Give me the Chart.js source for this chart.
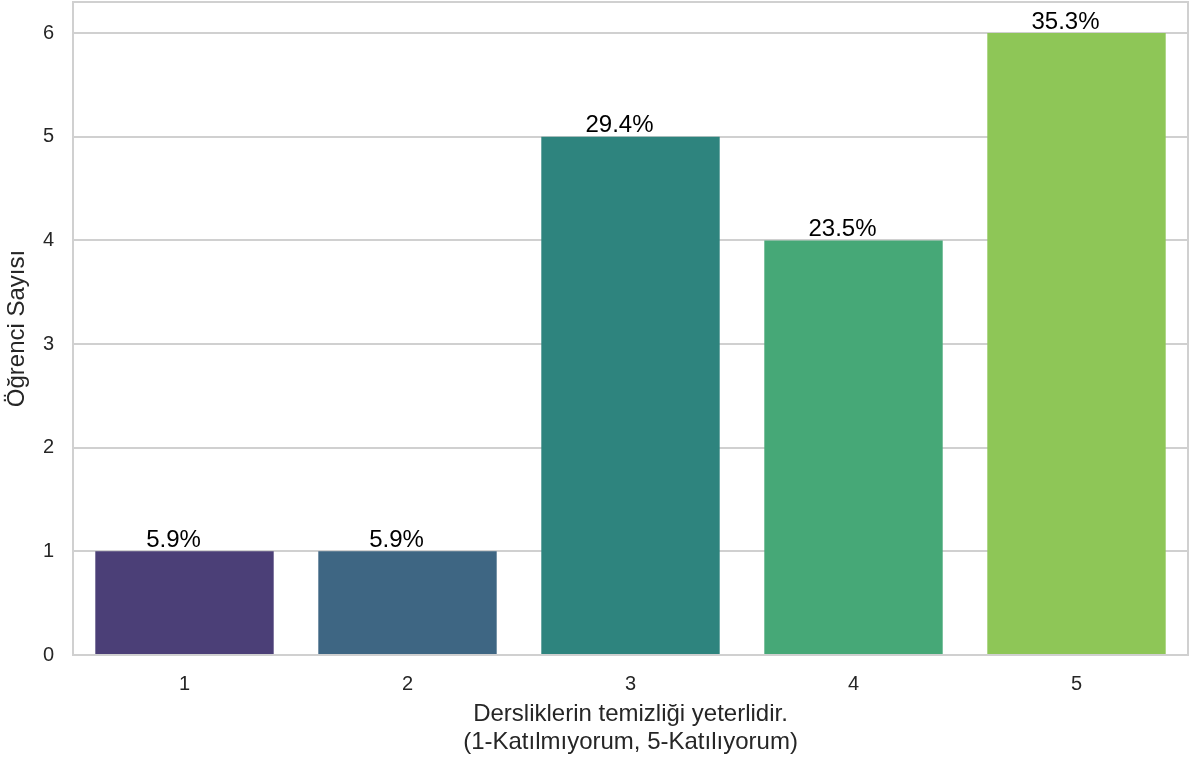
<!DOCTYPE html>
<html>
<head>
<meta charset="utf-8">
<script src="https://cdn.jsdelivr.net/npm/chart.js@4/dist/chart.umd.min.js"></script>
<style>
html,body{margin:0;padding:0;background:#fff;}
#c{display:block;}
</style>
</head>
<body>
<canvas id="c" width="1192" height="758"></canvas>
<script>
const categories = ["1", "2", "3", "4", "5"];
const counts = [1, 1, 5, 4, 6];
const percentLabels = ["5.9%", "5.9%", "29.4%", "23.5%", "35.3%"];
const barColors = ["#4b3f77", "#3e6683", "#2e847e", "#46a877", "#8ec657"];
const yTicks = [0, 1, 2, 3, 4, 5, 6];
const xTitle = ["Dersliklerin temizliği yeterlidir.", "(1-Katılmıyorum, 5-Katılıyorum)"];
const yTitle = "Öğrenci Sayısı";

const FONT = "'Liberation Sans', Arial, sans-serif";
const GRID = "#d0d0d0";

const framePlugin = {
  id: 'frame',
  beforeDatasetsDraw(chart) {
    const {ctx, chartArea: a} = chart;
    ctx.save();
    ctx.strokeStyle = GRID;
    ctx.lineWidth = 2;
    ctx.strokeRect(a.left, a.top, a.right - a.left, a.bottom - a.top);
    ctx.restore();
  }
};

const labelPlugin = {
  id: 'barLabels',
  afterDatasetsDraw(chart) {
    const {ctx} = chart;
    const meta = chart.getDatasetMeta(0);
    ctx.save();
    ctx.font = "24px " + FONT;
    ctx.fillStyle = "#000";
    ctx.textAlign = "center";
    ctx.textBaseline = "bottom";
    meta.data.forEach((bar, i) => {
      ctx.fillText(percentLabels[i], bar.x - 11, bar.y + 1);
    });
    ctx.restore();
  }
};

new Chart(document.getElementById('c'), {
  type: 'bar',
  data: {
    labels: categories,
    datasets: [{
      data: counts,
      backgroundColor: barColors,
      borderWidth: 0,
      barPercentage: 0.8,
      categoryPercentage: 1.0
    }]
  },
  options: {
    responsive: false,
    animation: false,
    devicePixelRatio: 1,
    layout: { padding: { left: 0, right: 4, top: 2, bottom: 0 } },
    plugins: { legend: { display: false }, tooltip: { enabled: false } },
    scales: {
      x: {
        offset: true,
        grid: { display: false, drawTicks: false },
        border: { display: false },
        ticks: { color: "#262626", font: { size: 20, family: FONT }, padding: 17 },
        title: {
          display: true,
          text: xTitle,
          color: "#262626",
          font: { size: 24, family: FONT, lineHeight: 1.17 },
          padding: { top: 2, bottom: 2 }
        },
        afterFit(scale) { scale.height = 103; scale.paddingLeft = 0; scale.paddingRight = 0; }
      },
      y: {
        min: 0,
        max: 6.3,
        afterBuildTicks(scale) { scale.ticks = yTicks.map(v => ({ value: v })); },
        grid: { color: GRID, lineWidth: 2, drawTicks: false },
        border: { display: false },
        ticks: { color: "#262626", font: { size: 20, family: FONT }, padding: 19 },
        title: {
          display: true,
          text: yTitle,
          color: "#262626",
          font: { size: 24, family: FONT },
          padding: { top: 3, bottom: 0 }
        },
        afterFit(scale) { scale.width = 73; scale.paddingTop = 0; scale.paddingBottom = 0; }
      }
    }
  },
  plugins: [framePlugin, labelPlugin]
});
</script>
</body>
</html>
